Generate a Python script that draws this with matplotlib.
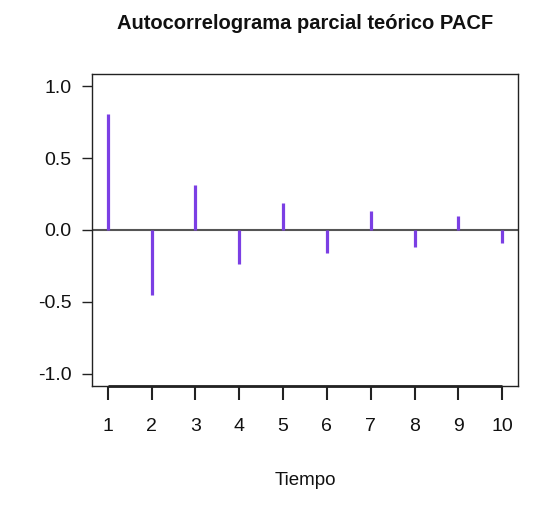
import numpy as np
import matplotlib.pyplot as plt

# Teoretical PACF values
lags = [1, 2, 3, 4, 5, 6, 7, 8, 9, 10]
pacf = [0.81, -0.45, 0.31, -0.24, 0.19, -0.16, 0.13, -0.12, 0.10, -0.09]
yticks = [-1.0, -0.5, 0.0, 0.5, 1.0]

plt.rcParams['font.family'] = ['Liberation Sans', 'DejaVu Sans']

fig = plt.figure(figsize=(5.59, 5.17), dpi=100)
ax = fig.add_axes([0.1646, 0.2534, 0.7621, 0.6035])

ax.vlines(lags, 0, pacf, color='#7b3fe4', lw=2.3)
ax.axhline(0, color='#555555', lw=1.5, zorder=0)

ax.set_xlim(0.64, 10.36)
ax.set_ylim(-1.087, 1.087)
ax.set_xticks(lags)
ax.set_yticks(yticks)
ax.set_yticklabels([f'{v:.1f}' for v in yticks])
ax.tick_params(axis='both', direction='out', width=1,
               labelsize=14, colors='#222222', labelcolor='#111111')
ax.tick_params(axis='y', length=7.5, pad=7)
ax.tick_params(axis='x', length=10, pad=13, width=1.5)
for s in ax.spines.values():
    s.set_linewidth(1.0)
    s.set_color('#222222')

# R style axis line running only from first to last lag
ax.plot([lags[0], lags[-1]], [-1.087, -1.087], color='#222222', lw=2,
        clip_on=False, solid_capstyle='butt')

ax.set_xlabel('Tiempo', fontsize=13.5, labelpad=27, color='#111111')
fig.text(0.5457, 0.955, 'Autocorrelograma parcial teórico PACF',
         ha='center', va='center', fontsize=14.5, fontweight='bold',
         color='#111111')

fig.savefig('out.png', dpi=100)
